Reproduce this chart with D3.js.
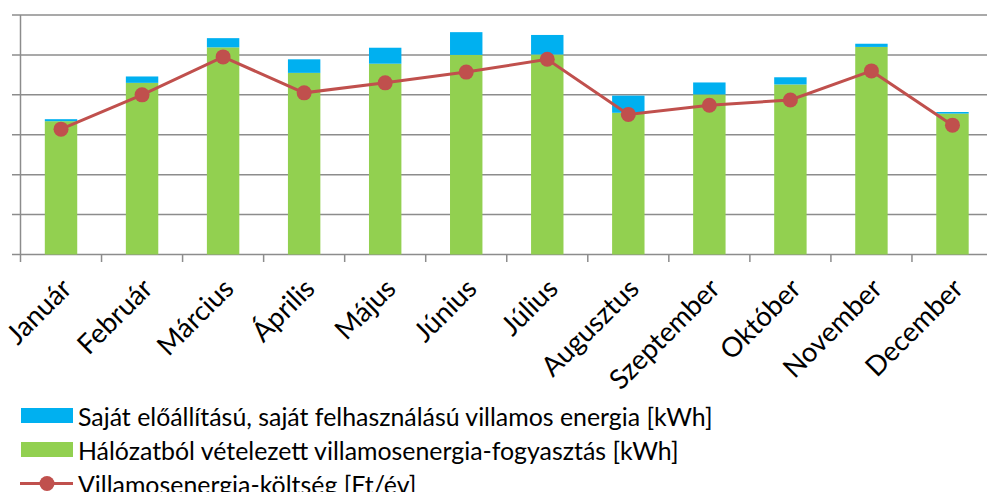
<!DOCTYPE html>
<html>
<head>
<meta charset="utf-8">
<script src="https://cdn.jsdelivr.net/npm/d3@7"></script>
<style>
  body { margin: 0; background: #fff; }
  svg { display: block; }
</style>
</head>
<body>
<svg id="chart" width="987" height="492"></svg>
<script>
const months = ['Január', 'Február', 'Március', 'Április', 'Május', 'Június',
  'Július', 'Augusztus', 'Szeptember', 'Október', 'November', 'December'];
// hálózatból vételezett [kWh]
const gridUse = [334, 430, 519, 455, 478, 500, 501, 355, 401, 426, 520, 353];
// saját előállítású, saját felhasználású [kWh]
const ownUse = [5, 16, 23, 34, 40, 57, 49, 43, 30, 18, 8, 4];
// villamosenergia-költség
const cost = [314, 400, 495, 405, 430, 457, 489, 351, 374, 387, 460, 324];
const yTicks = [0, 100, 200, 300, 400, 500, 600];

const legendItems = [
  { label: 'Saját előállítású, saját felhasználású villamos energia [kWh]', type: 'rect', color: '#00B0F0' },
  { label: 'Hálózatból vételezett villamosenergia-fogyasztás [kWh]', type: 'rect', color: '#92D050' },
  { label: 'Villamosenergia-költség [Ft/év]', type: 'line', color: '#C0504D' },
];

const FONT = "Lato, sans-serif";
const svg = d3.select('#chart');

const x = d3.scaleBand().domain(months).range([20.5, 993]).paddingInner(0).paddingOuter(0);
const y = d3.scaleLinear().domain([0, 600]).range([254.5, 15]);
const barW = x.bandwidth() * 0.4;

/****************** 글꼴 크기 맞춤 ******************/
// 범례 첫 줄이 원본에서 약 635px 폭
const probe = svg.append('text')
  .text(legendItems[0].label)
  .attr('font-size', '20px')
  .attr('font-family', FONT);
const fs = 20 * 635 / probe.node().getComputedTextLength();
probe.remove();
const axisFs = fs * 1.1;

/****************** 격자 ******************/
svg.append('g').selectAll('line').data(yTicks).join('line')
  .attr('x1', 12).attr('x2', 987)
  .attr('y1', d => y(d)).attr('y2', d => y(d))
  .attr('stroke', '#8c8c8c').attr('stroke-width', 1.5);

// 세로축
svg.append('line')
  .attr('x1', 20.5).attr('x2', 20.5)
  .attr('y1', y(600)).attr('y2', 262)
  .attr('stroke', '#8c8c8c').attr('stroke-width', 1.5);

// 카테고리 눈금
svg.append('g').selectAll('line').data(months.slice(1)).join('line')
  .attr('x1', d => x(d)).attr('x2', d => x(d))
  .attr('y1', y(0)).attr('y2', 262)
  .attr('stroke', '#8c8c8c').attr('stroke-width', 1.5);

/****************** 막대 ******************/
svg.append('g').selectAll('rect').data(months).join('rect')
  .attr('x', d => x(d) + (x.bandwidth() - barW) / 2)
  .attr('width', barW)
  .attr('y', (d, i) => y(gridUse[i]))
  .attr('height', (d, i) => y(0) - y(gridUse[i]))
  .attr('fill', '#92D050');

svg.append('g').selectAll('rect').data(months).join('rect')
  .attr('x', d => x(d) + (x.bandwidth() - barW) / 2)
  .attr('width', barW)
  .attr('y', (d, i) => y(gridUse[i] + ownUse[i]))
  .attr('height', (d, i) => y(gridUse[i]) - y(gridUse[i] + ownUse[i]))
  .attr('fill', '#00B0F0');

/****************** 선 ******************/
const cx = d => x(d) + x.bandwidth() / 2;
svg.append('path')
  .datum(months)
  .attr('d', d3.line().x(cx).y((d, i) => y(cost[i])))
  .attr('fill', 'none')
  .attr('stroke', '#C0504D')
  .attr('stroke-width', 3);

svg.append('g').selectAll('circle').data(months).join('circle')
  .attr('cx', cx)
  .attr('cy', (d, i) => y(cost[i]))
  .attr('r', 7.5)
  .attr('fill', '#C0504D');

/****************** 축 레이블 ******************/
svg.append('g').selectAll('text').data(months).join('text')
  .text(d => d)
  .attr('transform', d => `translate(${cx(d) - 3},${275}) rotate(-45)`)
  .attr('text-anchor', 'end')
  .attr('dominant-baseline', 'hanging')
  .attr('font-size', axisFs + 'px')
  .attr('font-family', FONT)
  .attr('fill', '#000');

/****************** 범례 ******************/
const lg = svg.append('g');
legendItems.forEach((item, i) => {
  const ly = 415.5 + i * 34;
  if (item.type === 'rect') {
    lg.append('rect')
      .attr('x', 21).attr('y', ly - 7.5)
      .attr('width', 52).attr('height', 15)
      .attr('fill', item.color);
  } else {
    lg.append('line')
      .attr('x1', 20).attr('x2', 73)
      .attr('y1', ly).attr('y2', ly)
      .attr('stroke', item.color).attr('stroke-width', 3);
    lg.append('circle')
      .attr('cx', 47).attr('cy', ly).attr('r', 7.5)
      .attr('fill', item.color);
  }
  lg.append('text')
    .text(item.label)
    .attr('x', 78).attr('y', ly)
    .attr('dominant-baseline', 'central')
    .attr('font-size', fs + 'px')
    .attr('font-family', FONT)
    .attr('fill', '#000');
});
</script>
</body>
</html>
